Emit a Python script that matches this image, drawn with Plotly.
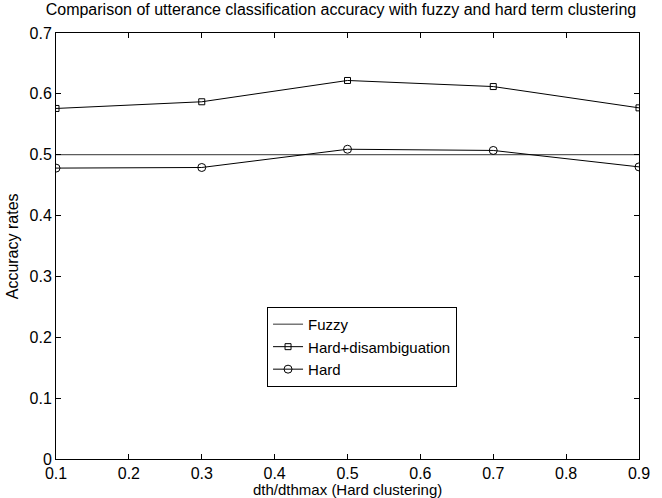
import plotly.graph_objects as go

x_vals = [0.1, 0.3, 0.5, 0.7, 0.9]
fuzzy = [0.5, 0.5, 0.5, 0.5, 0.5]
hard_disamb = [0.576, 0.587, 0.622, 0.612, 0.577]
hard = [0.478, 0.479, 0.509, 0.507, 0.480]

x_ticks = [0.1, 0.2, 0.3, 0.4, 0.5, 0.6, 0.7, 0.8, 0.9]
y_ticks = [0, 0.1, 0.2, 0.3, 0.4, 0.5, 0.6, 0.7]

font_family = "Liberation Sans, Arial, sans-serif"

fig = go.Figure()
fig.add_trace(go.Scatter(x=x_vals, y=fuzzy, mode="lines", name="Fuzzy",
                         line=dict(color="#333333", width=1)))
fig.add_trace(go.Scatter(x=x_vals, y=hard_disamb, mode="lines+markers",
                         name="Hard+disambiguation",
                         line=dict(color="black", width=1),
                         marker=dict(symbol="square-open", size=6,
                                     color="black", line=dict(width=1))))
fig.add_trace(go.Scatter(x=x_vals, y=hard, mode="lines+markers", name="Hard",
                         line=dict(color="black", width=1),
                         marker=dict(symbol="circle-open", size=8,
                                     color="black", line=dict(width=1))))

fig.update_layout(
    width=662, height=498,
    margin=dict(l=56, r=20, t=33, b=39),
    paper_bgcolor="white", plot_bgcolor="white",
    font=dict(family=font_family, size=16, color="black"),
    title=dict(text="Comparison of utterance classification accuracy with fuzzy and hard term clustering",
               x=0.515, xanchor="center", y=0.992, yanchor="top",
               font=dict(size=16, family=font_family, color="black")),
    showlegend=True,
    legend=dict(x=0.362, y=0.357, xanchor="left", yanchor="top",
                bgcolor="white", bordercolor="black", borderwidth=1,
                font=dict(size=15, family=font_family, color="black"),
                tracegroupgap=0, itemwidth=30),
    xaxis=dict(range=[0.1, 0.9], tickvals=x_ticks,
               ticktext=[str(t) for t in x_ticks],
               ticks="inside", ticklen=5, tickcolor="black",
               showline=True, linecolor="black", linewidth=1, mirror="ticks",
               showgrid=False, zeroline=False,
               tickfont=dict(size=16)),
    yaxis=dict(range=[0, 0.7], tickvals=y_ticks,
               ticktext=["0", "0.1", "0.2", "0.3", "0.4", "0.5", "0.6", "0.7"],
               ticks="inside", ticklen=5, tickcolor="black",
               showline=True, linecolor="black", linewidth=1, mirror="ticks",
               showgrid=False, zeroline=False,
               tickfont=dict(size=16)),
    annotations=[
        dict(text="dth/dthmax (Hard clustering)", xref="paper", yref="paper",
             x=0.5, y=-0.072, xanchor="center", yanchor="middle",
             showarrow=False, font=dict(size=15)),
        dict(text="Accuracy rates", xref="paper", yref="paper",
             x=-0.075, y=0.5, xanchor="center", yanchor="middle",
             textangle=-90, showarrow=False, font=dict(size=16)),
    ],
)

fig.write_html("out.html",
               config={"displayModeBar": False},
               post_script="document.body.style.margin='0';document.body.style.padding='0';")
